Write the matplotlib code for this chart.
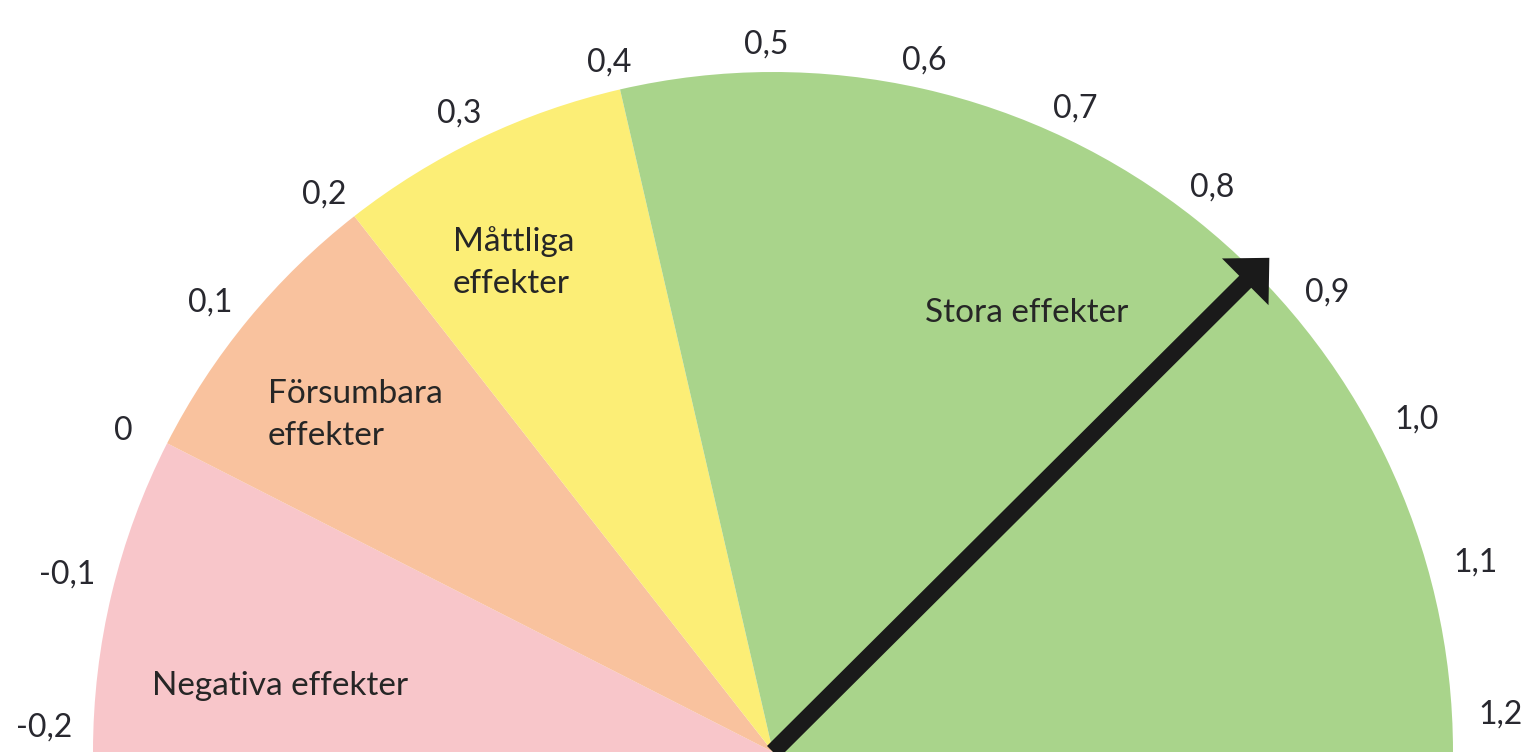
import numpy as np
import matplotlib.pyplot as plt
from matplotlib.patches import Wedge

# Gauge data
bounds = [-0.2, 0.0, 0.2, 0.4, 1.2]
band_names = ["Negativa effekter", "Försumbara\neffekter", "Måttliga\neffekter", "Stora effekter"]
band_colors = ["#f8c6ca", "#f9c29e", "#fcee76", "#a9d48b"]
tick_values = [-0.2, -0.1, 0.0, 0.1, 0.2, 0.3, 0.4, 0.5, 0.6, 0.7, 0.8, 0.9, 1.0, 1.1, 1.2]
tick_labels = ["-0,2", "-0,1", "0", "0,1", "0,2", "0,3", "0,4", "0,5", "0,6", "0,7", "0,8", "0,9", "1,0", "1,1", "1,2"]
needle_value = 0.865

plt.rcParams['font.family'] = ['Lato', 'DejaVu Sans']


def angle(v):
    # value -> degrees on the dial (-0.2 at left, 1.2 at right)
    return 178.0 - 125.0 * (v + 0.2)


fig = plt.figure(figsize=(15.26, 7.52), dpi=100)
ax = fig.add_axes([0, 0, 1, 1])
ax.set_xlim(-773 / 680, (1526 - 773) / 680)
ax.set_ylim(0, 752 / 680)
ax.axis('off')

edges = [angle(b) for b in bounds]
edges[0] = 180
edges[-1] = 0
for i in range(len(band_colors)):
    ax.add_patch(Wedge((0, 0), 1.0, edges[i + 1], edges[i], color=band_colors[i], lw=0))

# tick labels around the rim
for v, lab in zip(tick_values, tick_labels):
    a = np.radians(angle(v))
    ax.text(1.072 * np.cos(a), 1.04 * np.sin(a), lab, ha='center', va='center',
            fontsize=23, color='#28282f')

# band names
name_pos = [(-0.913, 0.084), (-0.743, 0.452), (-0.471, 0.675), (0.224, 0.632)]
for (x, y), name in zip(name_pos, band_names):
    ax.text(x, y, name, ha='left', va='baseline', fontsize=24, color='#262626',
            linespacing=1.5)

# needle
a = np.radians(angle(needle_value))
L = 1.03
ax.arrow(0, 0, L * np.cos(a), L * np.sin(a), width=0.025, head_width=0.097,
         head_length=0.05, length_includes_head=True, color='#1a1a1a', lw=0)

fig.savefig("out.png", dpi=100)
